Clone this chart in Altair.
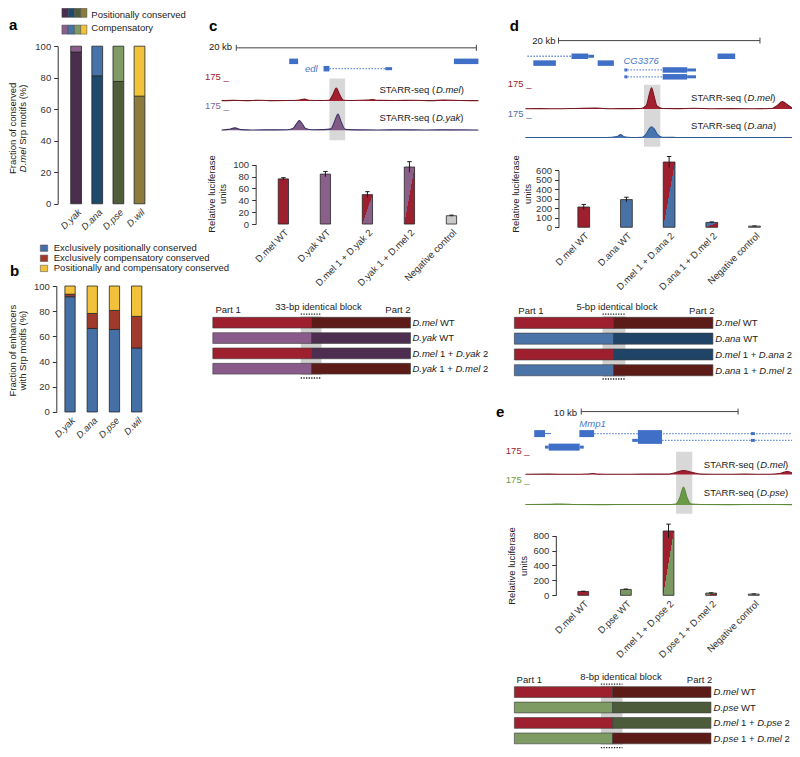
import altair as alt
import pandas as pd

# ====================== DATA ======================
SPECIES = ["D.yak", "D.ana", "D.pse", "D.wil"]
A_KINDS = ["Positionally conserved", "Compensatory"]
A_POSITIONAL = [96.3, 81.2, 77.6, 68.3]
A_COMPENSATORY = [3.7, 18.8, 22.4, 31.7]

B_CATEGORIES = ["Exclusively positionally conserved",
                "Exclusively compensatory conserved",
                "Positionally and compensatory conserved"]
B_EXCL_POS = [91.5, 66.3, 65.5, 50.8]
B_EXCL_COMP = [2.0, 11.9, 15.1, 25.1]
B_BOTH = [6.5, 21.8, 19.4, 24.1]

C_BARS = ["D.mel WT", "D.yak WT", "D.mel 1 + D.yak 2", "D.yak 1 + D.mel 2", "Negative control"]
C_LUC = [76, 84, 49.5, 96, 14]
C_ERR = [2, 4.5, 5, 9, 1]
D_BARS = ["D.mel WT", "D.ana WT", "D.mel 1 + D.ana 2", "D.ana 1 + D.mel 2", "Negative control"]
D_LUC = [213, 291, 686, 51, 12]
D_ERR = [27, 25, 58, 5, 2]
E_BARS = ["D.mel WT", "D.pse WT", "D.mel 1 + D.pse 2", "D.pse 1 + D.mel 2", "Negative control"]
E_LUC = [52, 79, 862, 30, 17]
E_ERR = [3, 5, 92, 4, 2]

# STARR-seq coverage readings (kb, signal)
C_MEL_KB = [0, 1.0, 2.0, 3.2, 4.2, 5.5, 6.5, 6.9, 7.3, 8.2, 8.95, 9.25, 9.55, 9.85, 10.15, 11.0, 12.2, 12.6, 13.0, 14.5, 16.0, 17.5, 18.5, 20.0, 21.39]
C_MEL_SIG = [3, 5, 3, 6, 3, 4, 9, 16, 6, 4, 6, 50, 111, 50, 6, 4, 8, 13, 5, 4, 6, 3, 8, 4, 3]
C_YAK_KB = [0, 0.6, 1.1, 1.6, 2.5, 4.0, 5.5, 6.0, 6.25, 6.47, 6.7, 7.0, 7.6, 8.5, 9.1, 9.4, 9.69, 9.95, 10.3, 11.5, 13.0, 15.0, 17.0, 19.0, 21.39]
C_YAK_SIG = [3, 8, 20, 6, 3, 4, 5, 20, 55, 78, 55, 15, 5, 6, 12, 70, 131, 70, 8, 4, 3, 4, 3, 4, 3]
D_MEL_KB = [0, 1.5, 3.0, 5.0, 7.0, 8.5, 10.0, 11.5, 12.0, 12.3, 12.52, 12.75, 13.05, 13.6, 15.0, 16.7, 18.5, 20.5, 22.5, 24.5, 25.0, 25.5, 26.0, 26.46]
D_MEL_SIG = [3, 4, 3, 5, 8, 3, 4, 5, 30, 120, 170, 110, 25, 5, 4, 7, 3, 4, 3, 5, 30, 60, 35, 10]
D_ANA_KB = [0, 2, 4, 6, 8, 9.1, 9.44, 9.8, 10.5, 11.6, 12.0, 12.3, 12.52, 12.8, 13.1, 13.6, 15, 17, 19, 21.5, 24, 26.46]
D_ANA_SIG = [4, 3, 4, 3, 4, 12, 28, 10, 4, 6, 35, 80, 95, 75, 30, 6, 4, 3, 4, 3, 4, 3]
E_MEL_KB = [0, 1.5, 3.0, 4.0, 4.29, 4.6, 6.0, 7.5, 9.0, 9.6, 10.08, 10.6, 11.2, 12.5, 14.0, 15.5, 16.3, 16.69, 17.0]
E_MEL_SIG = [3, 4, 3, 5, 10, 4, 3, 4, 4, 18, 35, 20, 4, 3, 4, 3, 12, 27, 15]
E_PSE_KB = [0, 1.5, 2.31, 3.2, 5, 7, 9.0, 9.6, 9.85, 10.08, 10.3, 10.55, 11.2, 13, 15, 17]
E_PSE_SIG = [4, 5, 8, 4, 3, 4, 4, 8, 60, 142, 60, 8, 4, 3, 4, 3]

# gene models (kb)
C_GENE_START = [5.63, 19.35, 8.49, 8.98, 13.63]
C_GENE_END = [6.37, 21.39, 8.98, 13.63, 14.2]
C_GENE_LANE = [0, 0, 1, 1, 1]
C_GENE_KIND = ["cds", "cds", "cds", "intron", "utr"]
D_GENE_START = [0.19, 4.57, 6.23, 19.07, 0.78, 7.17, 9.82, 10.12, 13.62, 16.05, 9.82, 10.12, 13.62, 16.05]
D_GENE_END = [4.57, 6.23, 6.81, 20.82, 3.02, 8.78, 10.12, 13.62, 16.05, 16.93, 10.12, 13.62, 16.05, 16.93]
D_GENE_LANE = [0, 0, 0, 0, 1, 1, 2, 2, 2, 2, 3, 3, 3, 3]
D_GENE_KIND = ["intron", "cds", "utr", "cds", "cds", "cds", "utr", "intron", "cds", "utr", "utr", "intron", "cds", "utr"]
E_GENE_START = [0.56, 1.25, 3.44, 4.38, 7.17, 14.38, 6.81, 7.17, 8.71, 14.38, 1.25, 1.48, 3.46]
E_GENE_END = [1.25, 1.63, 4.38, 17.0, 8.71, 14.63, 7.17, 8.71, 17.0, 14.63, 1.48, 3.46, 3.72]
E_GENE_LANE = [0, 0, 0, 0, 0, 0, 1, 1, 1, 1, 2, 2, 2]
E_GENE_KIND = ["cds", "line", "cds", "intron", "cds", "utr", "utr", "cds", "intron", "utr", "utr", "cds", "utr"]

C_SCALEBAR = [1.22, 21.22]
D_SCALEBAR = [3.28, 23.28]
E_SCALEBAR = [3.56, 13.56]
C_ENHANCER = [8.98, 10.29]
D_ENHANCER = [11.77, 13.39]
E_ENHANCER = [9.61, 10.64]

C_CONSTRUCTS = [("D.mel", "D.mel"), ("D.yak", "D.yak"), ("D.mel", "D.yak"), ("D.yak", "D.mel")]
D_CONSTRUCTS = [("D.mel", "D.mel"), ("D.ana", "D.ana"), ("D.mel", "D.ana"), ("D.ana", "D.mel")]
E_CONSTRUCTS = [("D.mel", "D.mel"), ("D.pse", "D.pse"), ("D.mel", "D.pse"), ("D.pse", "D.mel")]
SPLIT = 0.5
C_BLOCK = [0.445, 0.55]
D_BLOCK = [0.444, 0.559]
E_BLOCK = [0.44, 0.55]

# ====================== STYLE / LAYOUT ======================
W, H = 784, 741
SX, SY = W / 800.0, H / 757.0
def X(p): return round(p * SX, 2)
def Y(p): return round(p * SY, 2)

FONT = "Liberation Sans"
FS = 9.5
INK = "#222222"
AXC = "#333333"
GENE = "#3f6fc6"
PART1 = {"D.mel": "#9e1f2e", "D.yak": "#8a5b8a", "D.ana": "#4a74a8", "D.pse": "#7e9b63"}
PART2 = {"D.mel": "#5c1b17", "D.yak": "#4e2e50", "D.ana": "#1f4467", "D.pse": "#4c5c3b"}
A_DARK = ["#4b2d4e", "#1e4a6c", "#4f5d3b", "#8d7b3e"]
A_LIGHT = ["#8a5f8c", "#4873a8", "#7f9b63", "#f1c33a"]
B_COLORS = ["#4470a5", "#a03a2c", "#f2c23a"]

layers = []
ONE = pd.DataFrame({"k": [0]})

_W = {c: 556 for c in "0123456789"}
_W.update({' ': 278, '!': 278, '(': 333, ')': 333, '+': 584, '-': 333, '.': 278, '%': 889, '_': 556, ',': 278})
_W.update(dict(A=667, B=667, C=722, D=722, E=667, F=611, G=778, H=722, I=278, J=500, K=667, L=556, M=833,
               N=722, O=778, P=667, Q=778, R=722, S=667, T=611, U=722, V=667, W=944, X=667, Y=667, Z=611))
_W.update(dict(a=556, b=556, c=500, d=556, e=556, f=278, g=556, h=556, i=222, j=222, k=500, l=222, m=833,
               n=556, o=556, p=556, q=556, r=333, s=500, t=278, u=556, v=500, w=722, x=500, y=500, z=500))
def tw(s, size=FS):
    return sum(_W.get(c, 556) for c in s) * size / 1000.0

def text(s, x, y, size=FS, color=INK, italic=False, bold=False, angle=0, align="left", baseline="alphabetic"):
    kw = dict(text=s, font=FONT, fontSize=size, color=color, align=align, baseline=baseline)
    if italic:
        kw["fontStyle"] = "italic"
    if bold:
        kw["fontWeight"] = "bold"
    if angle:
        kw["angle"] = angle
    layers.append(alt.Chart(ONE).mark_text(**kw).encode(x=alt.value(x), y=alt.value(y)))

def rich(segs, x, y, size=FS, color=INK, angle=0, align="left"):
    total = sum(tw(s, size) for s, _ in segs)
    if angle == 0:
        cur = x - (total / 2 if align == "center" else 0)
        for s, it in segs:
            lead = len(s) - len(s.lstrip())
            text(s.strip(), cur + tw(s[:lead], size), y, size, color, italic=it)
            cur += tw(s, size)
    else:
        cur = y + (total / 2 if align == "center" else 0)
        for s, it in segs:
            lead = len(s) - len(s.lstrip())
            text(s.strip(), x, cur - tw(s[:lead], size), size, color, italic=it, angle=270)
            cur -= tw(s, size)

def yaxis(axis_xr, ticks):
    return alt.Axis(orient="left", offset=-X(axis_xr), values=ticks, tickSize=4, labelPadding=3,
                    labelFont=FONT, labelFontSize=FS, labelColor=AXC, domainColor=AXC, tickColor=AXC,
                    domainWidth=1, tickWidth=1, grid=False, title=None)

def xaxis(y0r, italic):
    return alt.Axis(orient="bottom", offset=Y(y0r) - H, labelAngle=-45, labelAlign="right",
                    labelBaseline="top", domain=False, ticks=False, labelPadding=3, labelFont=FONT,
                    labelFontSize=FS, labelColor=AXC, labelOverlap=False, grid=False, title=None,
                    labelFontStyle="italic" if italic else "normal")

def band(cats, c_first, c_last, bw):
    step = (c_last - c_first) / (len(cats) - 1)
    pin = 1 - bw / step
    return alt.Scale(domain=cats, range=[X(c_first - step / 2), X(c_last + step / 2)],
                     paddingInner=pin, paddingOuter=pin / 2)

def stacked_panel(segs, y0r, ytopr, axis_xr, c_first, c_last, bw):
    xs = band(SPECIES, c_first, c_last, bw)
    ys = alt.Scale(domain=[0, 100], range=[Y(y0r), Y(ytopr)], nice=False)
    recs = []
    keys, cols = [], []
    cum = [0.0] * len(SPECIES)
    for name, vals, colors in segs:
        for i, sp in enumerate(SPECIES):
            k = sp + "|" + name
            recs.append(dict(sp=sp, lo=cum[i], hi=cum[i] + vals[i], key=k))
            keys.append(k)
            cols.append(colors[i])
            cum[i] += vals[i]
    df = pd.DataFrame(recs)
    layers.append(alt.Chart(df).mark_bar(stroke="#262626", strokeWidth=0.8, opacity=1).encode(
        x=alt.X("sp:N", scale=xs, axis=xaxis(y0r, True)),
        y=alt.Y("hi:Q", scale=ys, axis=yaxis(axis_xr, [0, 20, 40, 60, 80, 100])),
        y2="lo:Q",
        color=alt.Color("key:N", scale=alt.Scale(domain=keys, range=cols), legend=None)))

def bar_panel(cats, vals, errs, fills, dmax, ticks, y0r, ytopr, axis_xr, c_first, c_last, bw):
    xs = band(cats, c_first, c_last, bw)
    ys = alt.Scale(domain=[0, dmax], range=[Y(y0r), Y(ytopr)], nice=False)
    df = pd.DataFrame({"cat": cats, "val": vals,
                       "lo": [v - e for v, e in zip(vals, errs)],
                       "hi": [v + e for v, e in zip(vals, errs)]})
    plain = [i for i, f in enumerate(fills) if isinstance(f, str)]
    layers.append(alt.Chart(df.iloc[plain]).mark_bar(stroke="#262626", strokeWidth=0.8, opacity=1).encode(
        x=alt.X("cat:N", scale=xs, axis=xaxis(y0r, False)),
        y=alt.Y("val:Q", scale=ys, axis=yaxis(axis_xr, ticks)),
        color=alt.Color("cat:N", scale=alt.Scale(domain=[cats[i] for i in plain],
                                                 range=[fills[i] for i in plain]), legend=None)))
    for i, f in enumerate(fills):
        if isinstance(f, tuple):
            grad = alt.Gradient(gradient="linear", x1=0, y1=0, x2=1, y2=1,
                                stops=[alt.GradientStop(color=f[0], offset=0),
                                       alt.GradientStop(color=f[0], offset=0.5),
                                       alt.GradientStop(color=f[1], offset=0.5),
                                       alt.GradientStop(color=f[1], offset=1)])
            layers.append(alt.Chart(df.iloc[[i]]).mark_bar(fill=grad, stroke="#262626", strokeWidth=0.8,
                                                           opacity=1).encode(
                x=alt.X("cat:N", scale=xs, axis=None),
                y=alt.Y("val:Q", scale=ys, axis=None)))
    eb = alt.Chart(df).encode(x=alt.X("cat:N", scale=xs, axis=None))
    layers.append(eb.mark_rule(color="#1a1a1a", strokeWidth=1).encode(
        y=alt.Y("lo:Q", scale=ys, axis=None), y2="hi:Q"))
    layers.append(eb.mark_tick(color="#1a1a1a", thickness=1, size=X(4.5), opacity=1).encode(
        y=alt.Y("hi:Q", scale=ys, axis=None)))

def gscale(dom, x0r, x1r):
    return alt.Scale(domain=[0, dom], range=[X(x0r), X(x1r)], nice=False, zero=False)

def track(kb, sig, dom, x0r, x1r, base_r, top_r, fill, line):
    xs = gscale(dom, x0r, x1r)
    ys = alt.Scale(domain=[0, 175], range=[Y(base_r), Y(top_r)], nice=False)
    base = alt.Chart(pd.DataFrame({"kb": kb, "sig": sig})).encode(
        x=alt.X("kb:Q", scale=xs, axis=None), y=alt.Y("sig:Q", scale=ys, axis=None))
    layers.append(base.mark_area(color=fill, interpolate="monotone", opacity=1))
    layers.append(base.mark_line(color=line, strokeWidth=1.1, interpolate="monotone"))

def highlight(region, dom, x0r, x1r, ytr, ybr):
    xs = gscale(dom, x0r, x1r)
    layers.append(alt.Chart(pd.DataFrame({"s": [region[0]], "e": [region[1]]})).mark_rect(
        color="#d4d4d4", opacity=0.9).encode(
        x=alt.X("s:Q", scale=xs, axis=None), x2="e:Q", y=alt.value(Y(ytr)), y2=alt.value(Y(ybr))))

def scalebar(sb, dom, x0r, x1r, yr):
    xs = gscale(dom, x0r, x1r)
    layers.append(alt.Chart(pd.DataFrame({"s": [sb[0]], "e": [sb[1]]})).mark_rule(
        color="#444444", strokeWidth=1).encode(
        x=alt.X("s:Q", scale=xs, axis=None), x2="e:Q", y=alt.value(Y(yr))))
    layers.append(alt.Chart(pd.DataFrame({"p": sb})).mark_rule(color="#444444", strokeWidth=1).encode(
        x=alt.X("p:Q", scale=xs, axis=None), y=alt.value(Y(yr) - 3), y2=alt.value(Y(yr) + 3)))

def genes(start, end, lane, kind, dom, x0r, x1r, lane_first, lane_last, cds_h=5.5):
    xs = gscale(dom, x0r, x1r)
    nl = max(lane)
    ys = alt.Scale(domain=[0, max(nl, 1)], range=[Y(lane_first), Y(lane_last)], nice=False)
    df = pd.DataFrame({"s": start, "e": end, "lane": lane, "kind": kind})
    styles = [("intron", dict(strokeWidth=1.3, strokeDash=[1.6, 1.4], color="#6f95dc")),
              ("line", dict(strokeWidth=1, color=GENE)),
              ("utr", dict(strokeWidth=3, color=GENE)),
              ("cds", dict(strokeWidth=cds_h, color=GENE))]
    for k, st in styles:
        sub = df[df.kind == k]
        if len(sub):
            layers.append(alt.Chart(sub).mark_rule(**st).encode(
                x=alt.X("s:Q", scale=xs, axis=None), x2="e:Q",
                y=alt.Y("lane:Q", scale=ys, axis=None)))

def constructs(rows, block, x0r, x1r, ytr, ybr, label_xr, top_dot_r, bot_dot_r, pin=0.3):
    names = ["r%d" % i for i in range(len(rows))]
    recs, keys, cols = [], [], []
    for nm, (p1, p2) in zip(names, rows):
        recs.append(dict(row=nm, s=0.0, e=SPLIT, key=p1 + "|1"))
        recs.append(dict(row=nm, s=SPLIT, e=1.0, key=p2 + "|2"))
        for k, c in ((p1 + "|1", PART1[p1]), (p2 + "|2", PART2[p2])):
            if k not in keys:
                keys.append(k)
                cols.append(c)
    xs = alt.Scale(domain=[0, 1], range=[X(x0r), X(x1r)], nice=False, zero=False)
    ys = alt.Scale(domain=names, range=[Y(ytr), Y(ybr)], paddingInner=pin, paddingOuter=0)
    bdf = pd.DataFrame({"s": [block[0]], "e": [block[1]]})
    layers.append(alt.Chart(bdf).mark_rect(color="#cfcfcf", opacity=1).encode(
        x=alt.X("s:Q", scale=xs, axis=None), x2="e:Q", y=alt.value(Y(ytr) - 1), y2=alt.value(Y(ybr) + 1)))
    layers.append(alt.Chart(pd.DataFrame(recs)).mark_rect(stroke="#3a3a3a", strokeWidth=0.6, opacity=1).encode(
        x=alt.X("s:Q", scale=xs, axis=None), x2="e:Q",
        y=alt.Y("row:N", scale=ys, axis=None),
        color=alt.Color("key:N", scale=alt.Scale(domain=keys, range=cols), legend=None)))
    for yd in (top_dot_r, bot_dot_r):
        layers.append(alt.Chart(bdf).mark_rule(color="#222222", strokeWidth=1.3, strokeDash=[1.3, 1.3]).encode(
            x=alt.X("s:Q", scale=xs, axis=None), x2="e:Q", y=alt.value(Y(yd))))
    n = len(rows)
    step = (Y(ybr) - Y(ytr)) / (n - pin)
    bandh = step * (1 - pin)
    for i, (p1, p2) in enumerate(rows):
        cy = Y(ytr) + i * step + bandh / 2
        if p1 == p2:
            segs = [(p1, True), (" WT", False)]
        else:
            segs = [(p1, True), (" 1 + ", False), (p2, True), (" 2", False)]
        rich(segs, X(label_xr), cy + 3.4)

# ====================== PANEL a ======================
text("a", X(1), Y(22), size=15, bold=True, color="#000000")
legrecs = [dict(sp=s, kind=k, key=s + "|" + k) for k in A_KINDS for s in SPECIES]
lxs = alt.Scale(domain=SPECIES, range=[X(55), X(80.5)], paddingInner=0, paddingOuter=0)
lys = alt.Scale(domain=A_KINDS, range=[Y(0.3), Y(26.7)], paddingInner=0.46, paddingOuter=0)
layers.append(alt.Chart(pd.DataFrame(legrecs)).mark_rect(stroke="#444444", strokeWidth=0.5, opacity=1).encode(
    x=alt.X("sp:N", scale=lxs, axis=None), y=alt.Y("kind:N", scale=lys, axis=None),
    color=alt.Color("key:N", scale=alt.Scale(domain=[r["key"] for r in legrecs], range=A_DARK + A_LIGHT),
                    legend=None)))
layers.append(alt.Chart(pd.DataFrame({"kind": A_KINDS})).mark_text(
    align="left", baseline="middle", font=FONT, fontSize=FS, color=INK).encode(
    x=alt.value(X(85)), y=alt.Y("kind:N", scale=lys, axis=None), text="kind:N"))
stacked_panel([("pos", A_POSITIONAL, A_DARK), ("comp", A_COMPENSATORY, A_LIGHT)],
              200, 39, 50.7, 69.5, 134.2, 11)
rich([("Fraction of conserved", False)], X(8.3), Y(123), angle=270, align="center")
rich([("D.mel", True), (" Srp motifs (%)", False)], X(18.8), Y(123), angle=270, align="center")

# ====================== PANEL b ======================
text("b", X(2), Y(274), size=15, bold=True, color="#000000")
bys = alt.Scale(domain=B_CATEGORIES, range=[Y(240.2), Y(271.2)], paddingInner=0.37, paddingOuter=0.185)
layers.append(alt.Chart(pd.DataFrame({"cat": B_CATEGORIES})).mark_rect(stroke="#444444", strokeWidth=0.5,
                                                                      opacity=1).encode(
    x=alt.value(X(33)), x2=alt.value(X(40.5)), y=alt.Y("cat:N", scale=bys, axis=None),
    color=alt.Color("cat:N", scale=alt.Scale(domain=B_CATEGORIES, range=B_COLORS), legend=None)))
layers.append(alt.Chart(pd.DataFrame({"cat": B_CATEGORIES})).mark_text(
    align="left", baseline="middle", font=FONT, fontSize=FS, color=INK).encode(
    x=alt.value(X(46.7)), y=alt.Y("cat:N", scale=bys, axis=None), text="cat:N"))
stacked_panel([("ep", B_EXCL_POS, [B_COLORS[0]] * 4), ("ec", B_EXCL_COMP, [B_COLORS[1]] * 4),
               ("both", B_BOTH, [B_COLORS[2]] * 4)],
              412.7, 284, 49.3, 63.3, 131.3, 10.5)
rich([("Fraction of enhancers", False)], X(8.3), Y(350), angle=270, align="center")
rich([("with Srp motifs (%)", False)], X(18.8), Y(350), angle=270, align="center")

# ====================== PANEL c ======================
text("c", X(205), Y(24), size=15, bold=True, color="#000000")
CL = 21.39
text("20 kb", X(205), Y(43.3))
scalebar(C_SCALEBAR, CL, 218, 480, 40.7)
genes(C_GENE_START, C_GENE_END, C_GENE_LANE, C_GENE_KIND, CL, 218, 480, 54.5, 62)
text("edl", X(303), Y(65), color="#4a78c8", italic=True)
highlight(C_ENHANCER, CL, 218, 480, 72, 135)
text("175 _", X(201), Y(74), color="#a2202f")
track(C_MEL_KB, C_MEL_SIG, CL, 218, 480, 95, 74, "#a2202f", "#7a1622")
text("175 _", X(201), Y(102.7), color="#7e6aa0")
track(C_YAK_KB, C_YAK_SIG, CL, 218, 480, 125, 102.7, "#7e5a84", "#3d3366")
rich([("STARR-seq (", False), ("D.mel", True), (")", False)], X(379), Y(87.3))
rich([("STARR-seq (", False), ("D.yak", True), (")", False)], X(379), Y(115))
bar_panel(C_BARS, C_LUC, C_ERR,
          [PART1["D.mel"], "#8a5f8a", (PART1["D.mel"], "#8a5f8a"), ("#8a5f8a", PART1["D.mel"]), "#c8c8c8"],
          100, [0, 20, 40, 60, 80, 100], 220.7, 160, 252.7, 281, 452.5, 10.5)
rich([("Relative luciferase", False)], X(211), Y(190), angle=270, align="center")
rich([("units", False)], X(222.5), Y(190), angle=270, align="center")
text("Part 1", X(211.7), Y(311.7))
text("33-bp identical block", X(272.7), Y(309))
text("Part 2", X(385), Y(311.7))
constructs(C_CONSTRUCTS, C_BLOCK, 209, 410.7, 316, 374, 412.7, 312.7, 378)

# ====================== PANEL d ======================
text("d", X(512), Y(24), size=15, bold=True, color="#000000")
DL = 26.46
text("20 kb", X(535), Y(36.7))
scalebar(D_SCALEBAR, DL, 528, 800, 33.3)
genes(D_GENE_START, D_GENE_END, D_GENE_LANE, D_GENE_KIND, DL, 528, 800, 49.3, 70.3)
text("CG3376", X(628), Y(57.3), color="#4a78c8", italic=True)
highlight(D_ENHANCER, DL, 528, 800, 78.3, 141.7)
text("175 _", X(510), Y(81), color="#a2202f")
track(D_MEL_KB, D_MEL_SIG, DL, 528, 800, 103.3, 81, "#a2202f", "#7a1622")
text("175 _", X(510), Y(111.7), color="#4a74b0")
track(D_ANA_KB, D_ANA_SIG, DL, 528, 800, 132.7, 111.7, "#4a74b0", "#2d5a93")
rich([("STARR-seq (", False), ("D.mel", True), (")", False)], X(697), Y(95))
rich([("STARR-seq (", False), ("D.ana", True), (")", False)], X(697), Y(123.3))
bar_panel(D_BARS, D_LUC, D_ERR,
          [PART1["D.mel"], "#4872a6", (PART1["D.mel"], "#4872a6"), ("#4872a6", PART1["D.mel"]), "#b5b5b5"],
          600, [0, 100, 200, 300, 400, 500, 600], 224, 165.7, 561.7, 587.5, 761.7, 12)
rich([("Relative luciferase", False)], X(521), Y(190), angle=270, align="center")
rich([("units", False)], X(534), Y(190), angle=270, align="center")
text("Part 1", X(520.7), Y(312.7))
text("5-bp identical block", X(580), Y(309))
text("Part 2", X(695), Y(312.7))
constructs(D_CONSTRUCTS, D_BLOCK, 516.7, 719.3, 316, 375.7, 721.7, 312.7, 379)

# ====================== PANEL e ======================
text("e", X(498), Y(418), size=15, bold=True, color="#000000")
EL = 17.0
text("10 kb", X(557), Y(416.7))
scalebar(E_SCALEBAR, EL, 528, 800, 412.3)
genes(E_GENE_START, E_GENE_END, E_GENE_LANE, E_GENE_KIND, EL, 528, 800, 434.8, 448.6, cds_h=7)
text("Mmp1", X(583), Y(428.3), color="#4a78c8", italic=True)
highlight(E_ENHANCER, EL, 528, 800, 453.3, 516.7)
text("175 _", X(508), Y(455.7), color="#a2202f")
track(E_MEL_KB, E_MEL_SIG, EL, 528, 800, 476.7, 455.7, "#a2202f", "#7a1622")
text("175 _", X(508), Y(485), color="#6b9a46")
track(E_PSE_KB, E_PSE_SIG, EL, 528, 800, 507.7, 485, "#6b9a46", "#5a8a3a")
rich([("STARR-seq (", False), ("D.mel", True), (")", False)], X(710), Y(470))
rich([("STARR-seq (", False), ("D.pse", True), (")", False)], X(710), Y(498.3))
bar_panel(E_BARS, E_LUC, E_ERR,
          [PART1["D.mel"], "#7b9860", (PART1["D.mel"], "#7b9860"), ("#7b9860", PART1["D.mel"]), "#b5b5b5"],
          800, [0, 200, 400, 600, 800], 600, 539, 559, 587, 761, 11)
rich([("Relative luciferase", False)], X(517), Y(570), angle=270, align="center")
rich([("units", False)], X(529.5), Y(570), angle=270, align="center")
text("Part 1", X(519), Y(690))
text("8-bp identical block", X(584), Y(686.7))
text("Part 2", X(692.7), Y(690))
constructs(E_CONSTRUCTS, E_BLOCK, 516.7, 717.3, 693.3, 751.7, 720, 690.7, 755.5)

chart = alt.layer(*layers).resolve_scale(
    x="independent", y="independent", color="independent"
).properties(
    width=W, height=H, autosize=alt.AutoSizeParams(type="none"), padding=0
).configure_view(stroke=None)

chart.save("out.html", embed_options={"renderer": "svg", "actions": False})
